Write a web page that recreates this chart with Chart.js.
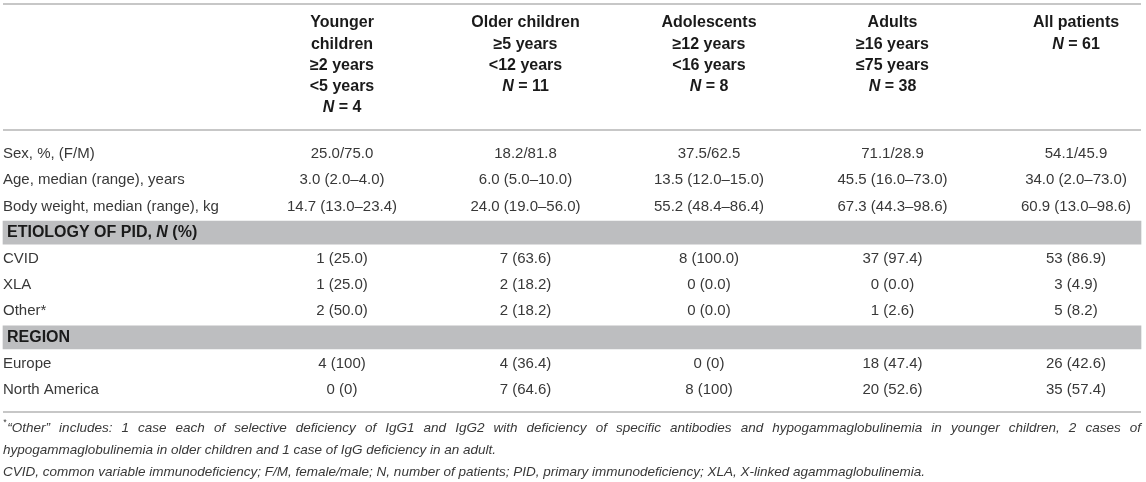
<!DOCTYPE html>
<html>
<head>
<meta charset="utf-8">
<script src="https://cdn.jsdelivr.net/npm/chart.js@4.4.1/dist/chart.umd.min.js"></script>
<style>
  html, body { margin: 0; padding: 0; background: #fff; }
  #wrap { width: 1146px; height: 482px; position: relative; }
</style>
</head>
<body>
<div id="wrap"><canvas id="table"></canvas></div>
<script>
'use strict';

// column headers (one entry per patient group)
const groupNames = [['Younger', 'children'], ['Older children'], ['Adolescents'], ['Adults'], ['All patients']];
const groupAges = [['≥2 years', '<5 years'], ['≥5 years', '<12 years'], ['≥12 years', '<16 years'], ['≥16 years', '≤75 years'], []];
const groupN = [4, 11, 8, 38, 61];

// row labels; "_" marks italic text
const rowLabels = [
  'Sex, %, (F/M)',
  'Age, median (range), years',
  'Body weight, median (range), kg',
  'ETIOLOGY OF PID, _N_ (%)',
  'CVID',
  'XLA',
  'Other*',
  'REGION',
  'Europe',
  'North America'
];

const sexFM = ['25.0/75.0', '18.2/81.8', '37.5/62.5', '71.1/28.9', '54.1/45.9'];
const ageMedian = ['3.0 (2.0–4.0)', '6.0 (5.0–10.0)', '13.5 (12.0–15.0)', '45.5 (16.0–73.0)', '34.0 (2.0–73.0)'];
const weightMedian = ['14.7 (13.0–23.4)', '24.0 (19.0–56.0)', '55.2 (48.4–86.4)', '67.3 (44.3–98.6)', '60.9 (13.0–98.6)'];
const cvid = ['1 (25.0)', '7 (63.6)', '8 (100.0)', '37 (97.4)', '53 (86.9)'];
const xla = ['1 (25.0)', '2 (18.2)', '0 (0.0)', '0 (0.0)', '3 (4.9)'];
const otherPid = ['2 (50.0)', '2 (18.2)', '0 (0.0)', '1 (2.6)', '5 (8.2)'];
const europe = ['4 (100)', '4 (36.4)', '0 (0)', '18 (47.4)', '26 (42.6)'];
const northAmerica = ['0 (0)', '7 (64.6)', '8 (100)', '20 (52.6)', '35 (57.4)'];

// null = section heading row
const rowValues = [sexFM, ageMedian, weightMedian, null, cvid, xla, otherPid, null, europe, northAmerica];

const footnotes = [
  '“Other” includes: 1 case each of selective deficiency of IgG1 and IgG2 with deficiency of specific antibodies and hypogammaglobulinemia in younger children, 2 cases of',
  'hypogammaglobulinemia in older children and 1 case of IgG deficiency in an adult.',
  'CVID, common variable immunodeficiency; F/M, female/male; N, number of patients; PID, primary immunodeficiency; XLA, X-linked agammaglobulinemia.'
];

// ---- layout (scale units) ----
// x: one unit per group column, y: one unit per body row
const COL_PX = 183.5;
const ROW_PX = 26.2;
const X_MIN = -0.8638;
const X_MAX = X_MIN + 1146 / COL_PX;
const Y_MIN = -154 / ROW_PX;
const Y_MAX = (482 - 154) / ROW_PX;
const TABLE_LEFT = X_MIN + 3 / COL_PX;
const TABLE_RIGHT = X_MIN + 1141 / COL_PX;
const HEAD_TOP = -5.0;
const HEAD_STEP = 0.81;
const RULES = [-5.725, -0.916, 9.85];
const FOOT_ROWS = [10.46, 11.32, 12.16];

const FONT = '"Liberation Sans", Arial, Helvetica, sans-serif';

// build text cells
const cells = [];
groupNames.forEach(function (name, c) {
  const lines = name.concat(groupAges[c], ['_N_ = ' + groupN[c]]);
  lines.forEach(function (t, j) {
    cells.push({ x: c + 1, y: HEAD_TOP + j * HEAD_STEP, text: t, align: 'center', bold: true, color: '#1a1a1a', size: 16 });
  });
});
rowLabels.forEach(function (label, r) {
  const section = rowValues[r] === null;
  cells.push({
    x: TABLE_LEFT + (section ? 4 : 0) / COL_PX, y: r, text: label, align: 'left',
    bold: section, color: section ? '#1a1a1a' : '#383838', size: section ? 16 : 15
  });
  if (!section) {
    rowValues[r].forEach(function (v, c) {
      cells.push({ x: c + 1, y: r, text: v, align: 'center', bold: false, color: '#383838', size: 15 });
    });
  }
});
footnotes.forEach(function (t, i) {
  cells.push({
    x: TABLE_LEFT, y: FOOT_ROWS[i], text: t, align: i === 0 ? 'justify' : 'left',
    italic: true, sup: i === 0 ? '*' : '', color: '#383838', size: 13.5
  });
});

const bands = [];
rowValues.forEach(function (v, r) {
  if (v === null) bands.push({ x: [TABLE_LEFT, TABLE_RIGHT], y: r });
});

const ruleSets = RULES.map(function (y) {
  return {
    type: 'line',
    data: [{ x: TABLE_LEFT, y: y }, { x: TABLE_RIGHT, y: y }],
    borderColor: '#b4b4b4',
    borderWidth: 1.6,
    pointRadius: 0,
    order: 1
  };
});

function fontStr(cell, italic) {
  return (italic ? 'italic ' : '') + (cell.bold ? 'bold ' : '') + cell.size + 'px ' + FONT;
}

function drawRich(ctx, cell, x, y) {
  const parts = cell.text.split('_');
  let width = 0;
  parts.forEach(function (p, k) {
    ctx.font = fontStr(cell, cell.italic || k % 2 === 1);
    width += ctx.measureText(p).width;
  });
  let cx = cell.align === 'center' ? x - width / 2 : x;
  parts.forEach(function (p, k) {
    ctx.font = fontStr(cell, cell.italic || k % 2 === 1);
    ctx.fillText(p, cx, y);
    cx += ctx.measureText(p).width;
  });
}

function drawJustified(ctx, cell, x, y, right) {
  let cx = x;
  if (cell.sup) {
    ctx.font = 'italic ' + (cell.size - 5) + 'px ' + FONT;
    ctx.fillText(cell.sup, cx, y - 5);
    cx += ctx.measureText(cell.sup).width + 1;
  }
  ctx.font = fontStr(cell, true);
  const words = cell.text.split(' ');
  let total = 0;
  words.forEach(function (w) { total += ctx.measureText(w).width; });
  const gap = (right - cx - total) / (words.length - 1);
  words.forEach(function (w) {
    ctx.fillText(w, cx, y);
    cx += ctx.measureText(w).width + gap;
  });
}

const tableText = {
  id: 'tableText',
  afterDatasetsDraw: function (chart) {
    const ctx = chart.ctx;
    const meta = chart.getDatasetMeta(chart.data.datasets.length - 1);
    const right = chart.scales.x.getPixelForValue(TABLE_RIGHT);
    ctx.save();
    ctx.textBaseline = 'middle';
    ctx.textAlign = 'left';
    meta.data.forEach(function (pt, i) {
      const cell = cells[i];
      ctx.fillStyle = cell.color;
      if (cell.align === 'justify') {
        drawJustified(ctx, cell, pt.x, pt.y, right);
      } else {
        drawRich(ctx, cell, pt.x, pt.y);
      }
    });
    ctx.restore();
  }
};

new Chart(document.getElementById('table'), {
  type: 'bar',
  data: {
    datasets: [
      {
        type: 'bar',
        indexAxis: 'y',
        data: bands,
        backgroundColor: '#bdbec0',
        borderWidth: 0,
        barThickness: 23,
        order: 2
      }
    ].concat(ruleSets, [
      {
        type: 'scatter',
        data: cells.map(function (c) { return { x: c.x, y: c.y }; }),
        pointRadius: 0,
        pointHoverRadius: 0,
        order: 0
      }
    ])
  },
  options: {
    responsive: true,
    maintainAspectRatio: false,
    animation: false,
    events: [],
    layout: { padding: 0 },
    plugins: { legend: { display: false }, tooltip: { enabled: false } },
    scales: {
      x: { type: 'linear', min: X_MIN, max: X_MAX, offset: false, display: false },
      y: { type: 'linear', min: Y_MIN, max: Y_MAX, offset: false, reverse: true, display: false }
    }
  },
  plugins: [tableText]
});
</script>
</body>
</html>
